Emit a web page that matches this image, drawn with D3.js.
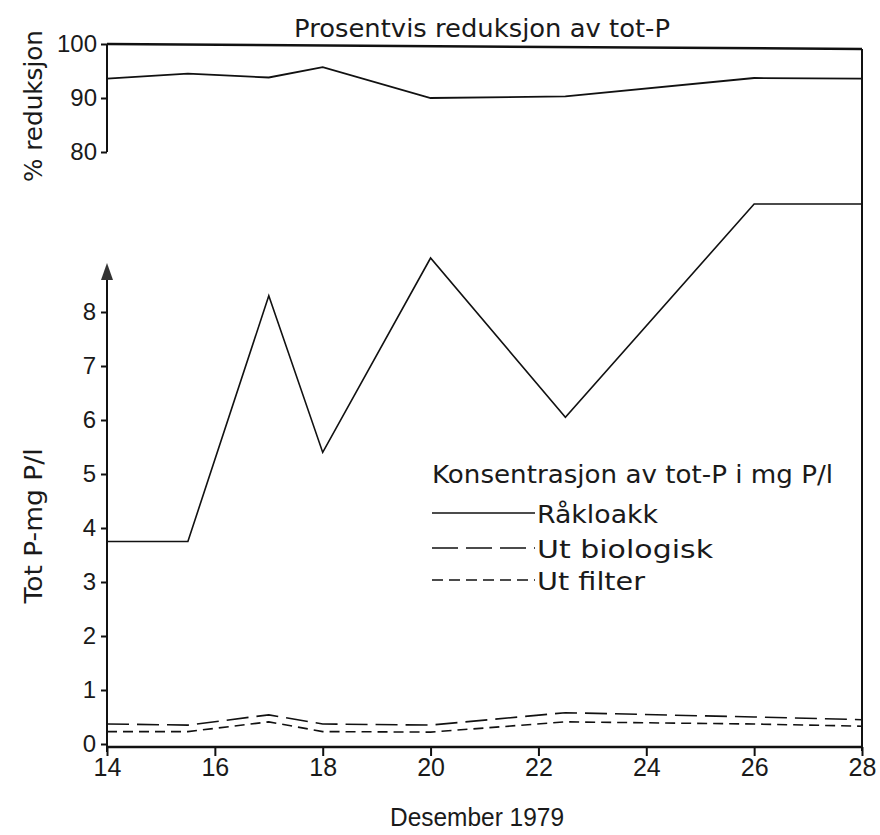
<!DOCTYPE html>
<html><head><meta charset="utf-8">
<script src="https://cdn.jsdelivr.net/npm/d3@7"></script>
<style>
body{margin:0;background:#fff;}
text{font-family:"Liberation Sans",Arial,sans-serif;fill:#1a1a1a;}
.lbl{font-family:"DejaVu Sans","Liberation Sans",sans-serif;}
</style></head>
<body><svg id="c" width="880" height="835"></svg>
<script>
const dates = [14, 15.5, 17, 18, 20, 22.5, 26, 28];
const reduction = [93.6, 94.5, 93.8, 95.7, 90.0, 90.3, 93.7, 93.6];
const rakloakk = [3.75, 3.75, 8.3, 5.4, 9.0, 6.05, 10.0, 10.0];
const utBiologisk = [0.37, 0.35, 0.54, 0.37, 0.35, 0.58, 0.50, 0.45];
const utFilter = [0.23, 0.23, 0.41, 0.23, 0.22, 0.41, 0.37, 0.33];
const xTicks = [14, 16, 18, 20, 22, 24, 26, 28];
const topTicks = [100, 90, 80];
const botTicks = [0, 1, 2, 3, 4, 5, 6, 7, 8];
const legendNames = ["Råkloakk", "Ut biologisk", "Ut filter"];

const svg = d3.select("#c");
const x = d3.scaleLinear().domain([14, 28]).range([107, 862]);
const yTop = d3.scaleLinear().domain([80, 100]).range([152, 44]);
const yBot = d3.scaleLinear().domain([0, 8]).range([744, 312]);
const ink = "#111";

function label(g, txt, len, fs) {
  return g.append("text").attr("class", "lbl").attr("font-size", fs || 25)
    .attr("textLength", len).attr("lengthAdjust", "spacingAndGlyphs").text(txt);
}

// title
label(svg, "Prosentvis reduksjon av tot-P", 376).attr("x", 294).attr("y", 37);

// top axis
const gTop = svg.append("g").attr("transform", `translate(${x(14)},0)`)
  .call(d3.axisLeft(yTop).tickValues(topTicks).tickSize(6).tickPadding(4).tickFormat(d3.format("d")));
gTop.select(".domain").remove();
gTop.append("line").attr("x1", 0).attr("x2", 0).attr("y1", yTop(100)).attr("y2", yTop(80))
  .attr("stroke", ink).attr("stroke-width", 2);
gTop.selectAll(".tick line").attr("stroke", ink).attr("stroke-width", 2);
gTop.selectAll(".tick text").attr("font-size", 24).attr("fill", "#1a1a1a");

// top frame line at 100 and right border
svg.append("line").attr("x1", x(14)).attr("x2", x(28)).attr("y1", yTop(100)).attr("y2", yTop(100) + 5)
  .attr("stroke", ink).attr("stroke-width", 2.5);
svg.append("line").attr("x1", x(28)).attr("x2", x(28)).attr("y1", yTop(100) + 5).attr("y2", yBot(0) + 7)
  .attr("stroke", ink).attr("stroke-width", 2);

// reduction line
svg.append("path").datum(dates.map((d, i) => [d, reduction[i]]))
  .attr("d", d3.line().x(d => x(d[0])).y(d => yTop(d[1])))
  .attr("fill", "none").attr("stroke", ink).attr("stroke-width", 1.8);

label(svg, "% reduksjon", 152).attr("text-anchor", "middle")
  .attr("transform", "translate(42,106) rotate(-90)");

// bottom y axis
const gBot = svg.append("g").attr("transform", `translate(${x(14)},0)`)
  .call(d3.axisLeft(yBot).tickValues(botTicks).tickSize(6).tickPadding(5).tickFormat(d3.format("d")));
gBot.select(".domain").remove();
gBot.append("line").attr("x1", 0).attr("x2", 0).attr("y1", yBot(0) + 8).attr("y2", 272)
  .attr("stroke", ink).attr("stroke-width", 2);
gBot.append("path").attr("d", "M-6,280 L6,280 L0,263 Z").attr("fill", "#333");
gBot.selectAll(".tick line").attr("stroke", ink).attr("stroke-width", 2);
gBot.selectAll(".tick text").attr("font-size", 24).attr("fill", "#1a1a1a");

label(svg, "Tot P-mg P/l", 155).attr("text-anchor", "middle")
  .attr("transform", "translate(42,526) rotate(-90)");

// x axis
const gX = svg.append("g").attr("transform", `translate(0,${yBot(0) + 3})`)
  .call(d3.axisBottom(x).tickValues(xTicks).tickSize(9).tickPadding(2).tickFormat(d3.format("d")));
gX.select(".domain").remove();
gX.append("line").attr("x1", x(14)).attr("x2", x(28)).attr("y1", 0).attr("y2", 0)
  .attr("stroke", ink).attr("stroke-width", 2.5);
gX.selectAll(".tick line").attr("stroke", ink).attr("stroke-width", 2);
gX.selectAll(".tick text").attr("font-size", 25).attr("fill", "#1a1a1a");

svg.append("text").attr("font-size", 25).attr("textLength", 174).attr("lengthAdjust", "spacingAndGlyphs")
  .attr("x", 390).attr("y", 826).text("Desember 1979");

// series
const line = d3.line().x(d => x(d[0])).y(d => yBot(d[1]));
const series = [
  {vals: rakloakk, dash: null},
  {vals: utBiologisk, dash: "22,8"},
  {vals: utFilter, dash: "10,6"}
];
series.forEach(s => {
  svg.append("path").datum(dates.map((d, i) => [d, s.vals[i]]))
    .attr("d", line).attr("fill", "none").attr("stroke", ink).attr("stroke-width", 1.6)
    .attr("stroke-dasharray", s.dash);
});

// legend
label(svg, "Konsentrasjon av tot-P i mg P/l", 401).attr("x", 432).attr("y", 483);
const legDash = [null, "26,8", "11,6"];
const legY = [513, 548, 580];
const legLen = [121, 176, 108];
legendNames.forEach((n, i) => {
  svg.append("line").attr("x1", 432).attr("x2", 535)
    .attr("y1", legY[i]).attr("y2", legY[i])
    .attr("stroke", ink).attr("stroke-width", 1.6).attr("stroke-dasharray", legDash[i]);
  label(svg, n, legLen[i]).attr("x", 537).attr("y", legY[i] + 10);
});
</script></body></html>
